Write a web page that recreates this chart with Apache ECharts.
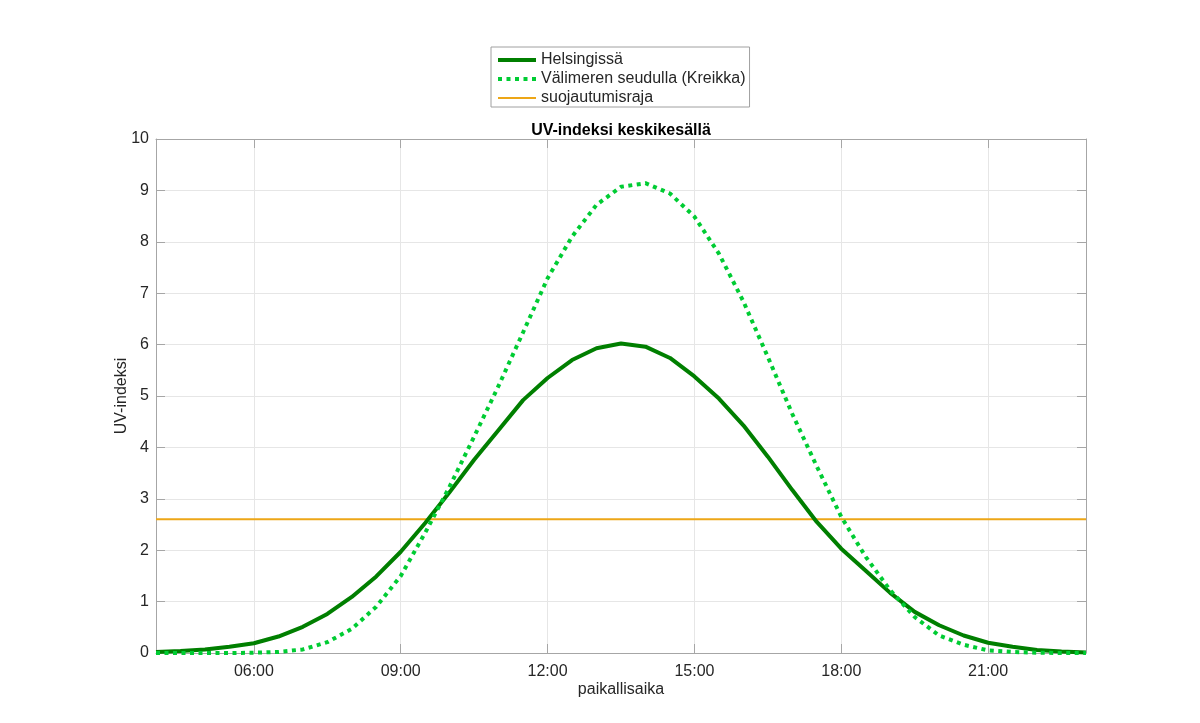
<!DOCTYPE html>
<html>
<head>
<meta charset="utf-8">
<script src="https://cdn.jsdelivr.net/npm/echarts@6/dist/echarts.min.js"></script>
<style>html,body{margin:0;padding:0;background:#fff}#c{width:1200px;height:723px}</style>
</head>
<body>
<div id="c"></div>
<script>
const hours = [4,4.5,5,5.5,6,6.5,7,7.5,8,8.5,9,9.5,10,10.5,11,11.5,12,12.5,13,13.5,14,14.5,15,15.5,16,16.5,17,17.5,18,18.5,19,19.5,20,20.5,21,21.5,22,22.5,23];
const helsinki = [0.02,0.04,0.07,0.12,0.19,0.32,0.51,0.76,1.09,1.49,1.97,2.53,3.13,3.76,4.34,4.92,5.35,5.70,5.93,6.02,5.96,5.74,5.38,4.95,4.43,3.82,3.17,2.55,2.03,1.60,1.17,0.80,0.54,0.34,0.20,0.12,0.06,0.03,0.01];
const kreikka = [0,0,0,0,0.005,0.02,0.07,0.21,0.47,0.90,1.50,2.34,3.24,4.21,5.20,6.24,7.29,8.10,8.72,9.07,9.14,8.94,8.49,7.77,6.84,5.76,4.65,3.63,2.65,1.87,1.22,0.70,0.34,0.16,0.05,0.02,0.005,0,0];
const threshold = 2.6;
const xTicks = [6,9,12,15,18,21];
const seriesNames = ['Helsingissä','Välimeren seudulla (Kreikka)','suojautumisraja'];
const titleText = 'UV-indeksi keskikesällä';
const xName = 'paikallisaika';
const yName = 'UV-indeksi';

const font = 'Liberation Sans, Arial, sans-serif';
const axisCol = '#a6a6a6';
const txtCol = '#262626';
const colH = '#007f00', colK = '#00cc33', colT = '#eda617';
const dotK = [4, 4.5];
const fmt = v => (v < 10 ? '0' : '') + v + ':00';

const chart = echarts.init(document.getElementById('c'));
chart.setOption({
  animation: false,
  textStyle: {fontFamily: font},
  grid: {left: 156, right: 114, top: 139, bottom: 70, containLabel: false},
  graphic: [{type: 'text', x: 621, y: 123, style: {text: titleText, fontFamily: font, fontSize: 16, fontWeight: 'bold', fill: '#000', textAlign: 'center'}}],
  legend: {
    orient: 'vertical', left: 491, top: 47,
    itemWidth: 38, itemHeight: 16, itemGap: 3,
    padding: [5, 4, 1, 5],
    borderColor: '#a0a0a0', borderWidth: 1, backgroundColor: '#fff',
    itemStyle: {opacity: 0},
    textStyle: {fontSize: 16, color: txtCol, fontFamily: font},
    data: [
      {name: seriesNames[0], lineStyle: {width: 4, color: colH}},
      {name: seriesNames[1], lineStyle: {width: 4, color: colK, type: dotK}},
      {name: seriesNames[2], lineStyle: {width: 2, color: colT}}
    ]
  },
  xAxis: [{
    type: 'value', min: 4, max: 23,
    name: xName, nameLocation: 'middle', nameGap: 29, nameMoveOverlap: false,
    nameTextStyle: {fontSize: 16, color: txtCol, fontFamily: font},
    axisLine: {show: true, lineStyle: {color: axisCol, width: 1}},
    axisTick: {show: true, inside: true, length: 9, customValues: xTicks, lineStyle: {color: axisCol}},
    axisLabel: {customValues: xTicks, formatter: fmt, fontSize: 16, color: txtCol, margin: 11, fontFamily: font},
    splitLine: {show: true, lineStyle: {color: '#e6e6e6', width: 1}}
  }, {
    type: 'value', min: 4, max: 23, position: 'top',
    axisLine: {show: true, onZero: false, lineStyle: {color: axisCol, width: 1}},
    axisTick: {show: true, inside: true, length: 9, customValues: xTicks, lineStyle: {color: axisCol}},
    axisLabel: {show: false},
    splitLine: {show: false}
  }],
  yAxis: [{
    type: 'value', min: 0, max: 10, interval: 1,
    name: yName, nameLocation: 'middle', nameGap: 26, nameMoveOverlap: false,
    nameTextStyle: {fontSize: 16, color: txtCol, fontFamily: font},
    axisLine: {show: true, lineStyle: {color: axisCol, width: 1}},
    axisTick: {show: true, inside: true, length: 9, lineStyle: {color: axisCol}},
    axisLabel: {fontSize: 16, color: txtCol, margin: 7, fontFamily: font},
    splitLine: {show: true, lineStyle: {color: '#e6e6e6', width: 1}}
  }, {
    type: 'value', min: 0, max: 10, interval: 1, position: 'right',
    axisLine: {show: true, onZero: false, lineStyle: {color: axisCol, width: 1}},
    axisTick: {show: true, inside: true, length: 9, lineStyle: {color: axisCol}},
    axisLabel: {show: false},
    splitLine: {show: false}
  }],
  series: [{
    name: seriesNames[0], type: 'line', showSymbol: false, symbol: 'none',
    data: hours.map((h, i) => [h, helsinki[i]]),
    lineStyle: {color: colH, width: 4}, itemStyle: {color: colH}, z: 3
  }, {
    name: seriesNames[1], type: 'line', showSymbol: false, symbol: 'none',
    data: hours.map((h, i) => [h, kreikka[i]]),
    lineStyle: {color: colK, width: 4, type: dotK}, itemStyle: {color: colK}, z: 4
  }, {
    name: seriesNames[2], type: 'line', showSymbol: false, symbol: 'none',
    data: [[hours[0], threshold], [hours[hours.length - 1], threshold]],
    lineStyle: {color: colT, width: 2}, itemStyle: {color: colT}, z: 2
  }]
});
</script>
</body>
</html>
